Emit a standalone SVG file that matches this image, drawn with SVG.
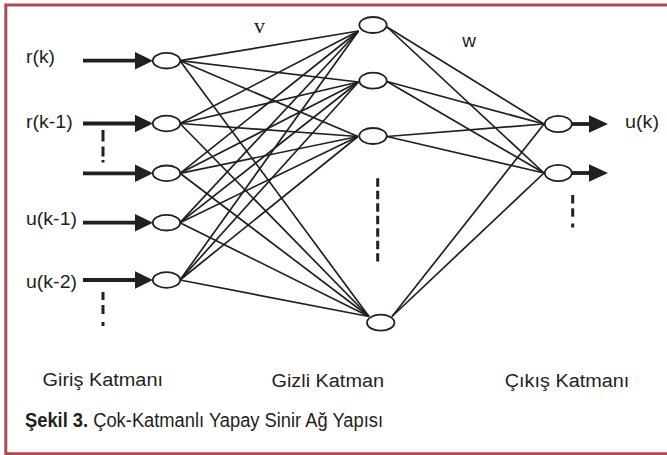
<svg xmlns="http://www.w3.org/2000/svg" width="667" height="455" viewBox="0 0 667 455">
<style>
.n{fill:#fff;stroke:#231f20;stroke-width:1.8}
.c line{stroke:#231f20;stroke-width:1.7}
.c line.a{stroke:#231f20;stroke-width:3.8}
.h{fill:#231f20}
.t{font-family:"Liberation Sans",Arial,sans-serif;font-size:18px;fill:#231f20}
.d{stroke:#231f20;stroke-width:3}
</style>
<rect width="667" height="455" fill="#fff"/>
<path d="M667,5 H5.8 V453.8 H667" fill="none" stroke="#b04a52" stroke-width="3"/>

<g id="connectors" class="c">
<!-- input to hidden -->
<line x1="180" y1="60.7" x2="358.5" y2="31"/>
<line x1="180" y1="60.7" x2="358.5" y2="82"/>
<line x1="180" y1="60.7" x2="358" y2="136.5"/>
<line x1="180" y1="60.7" x2="369" y2="316.5"/>
<line x1="180" y1="123.5" x2="358.5" y2="31"/>
<line x1="180" y1="123.5" x2="358.5" y2="82"/>
<line x1="180" y1="123.5" x2="358" y2="136.5"/>
<line x1="180" y1="123.5" x2="369" y2="316.5"/>
<line x1="180" y1="173.3" x2="358.5" y2="31"/>
<line x1="180" y1="173.3" x2="358.5" y2="82"/>
<line x1="180" y1="173.3" x2="358" y2="136.5"/>
<line x1="180" y1="173.3" x2="369" y2="316.5"/>
<line x1="180" y1="222.7" x2="358.5" y2="31"/>
<line x1="180" y1="222.7" x2="358.5" y2="82"/>
<line x1="180" y1="222.7" x2="358" y2="136.5"/>
<line x1="180" y1="222.7" x2="369" y2="316.5"/>
<line x1="180" y1="280" x2="358.5" y2="31"/>
<line x1="180" y1="280" x2="358.5" y2="82"/>
<line x1="180" y1="280" x2="358" y2="136.5"/>
<line x1="180" y1="280" x2="369" y2="316.5"/>
<!-- hidden to output -->
<line x1="387" y1="27" x2="544" y2="124"/>
<line x1="387" y1="27" x2="544" y2="173"/>
<line x1="387" y1="81.5" x2="544" y2="124"/>
<line x1="387" y1="81.5" x2="544" y2="173"/>
<line x1="387" y1="136.5" x2="544" y2="124"/>
<line x1="387" y1="136.5" x2="544" y2="173"/>
<line x1="392" y1="316.5" x2="544" y2="124"/>
<line x1="392" y1="316.5" x2="544" y2="173"/>
<!-- input arrows -->
<line class="a" x1="83" y1="60.7" x2="140" y2="60.7"/>
<polygon class="h" points="135,51.9 153,60.7 135,69.5"/>
<line class="a" x1="83" y1="123.5" x2="140" y2="123.5"/>
<polygon class="h" points="135,114.7 153,123.5 135,132.3"/>
<line class="a" x1="83" y1="173.3" x2="140" y2="173.3"/>
<polygon class="h" points="135,164.5 153,173.3 135,182.1"/>
<line class="a" x1="83" y1="222.7" x2="140" y2="222.7"/>
<polygon class="h" points="135,213.9 153,222.7 135,231.5"/>
<line class="a" x1="83" y1="280" x2="140" y2="280"/>
<polygon class="h" points="135,271.2 153,280 135,288.8"/>
<!-- output arrows -->
<line class="a" x1="572" y1="124" x2="592" y2="124"/>
<polygon class="h" points="589,115.3 608,124 589,132.7"/>
<line class="a" x1="572" y1="173" x2="592" y2="173"/>
<polygon class="h" points="589,164.3 608,173 589,181.7"/>
</g>

<g id="dots">
<line class="d" x1="103" y1="130" x2="103" y2="141.5"/>
<line class="d" x1="103" y1="146.5" x2="103" y2="156.5"/>
<line class="d" x1="103" y1="160" x2="103" y2="162.5"/>
<line class="d" x1="103" y1="292" x2="103" y2="300"/>
<line class="d" x1="103" y1="305" x2="103" y2="314"/>
<line class="d" x1="103" y1="322" x2="103" y2="326"/>
<line class="d" x1="377.7" y1="178.3" x2="377.7" y2="261.5" stroke-dasharray="8.5 4"/>
<line class="d" x1="572.7" y1="195" x2="572.7" y2="203.5"/>
<line class="d" x1="572.7" y1="208.3" x2="572.7" y2="216.7"/>
<line class="d" x1="572.7" y1="223.5" x2="572.7" y2="227.5"/>
</g>

<g id="in1"><ellipse class="n" cx="166.5" cy="60.7" rx="13.7" ry="7.8"/><text class="t" x="26" y="63.3" textLength="29" lengthAdjust="spacingAndGlyphs">r(k)</text></g>
<g id="in2"><ellipse class="n" cx="166.5" cy="123.5" rx="13.7" ry="7.8"/><text class="t" x="26" y="128.3" textLength="46.7" lengthAdjust="spacingAndGlyphs">r(k-1)</text></g>
<g id="in3"><ellipse class="n" cx="166.5" cy="173.3" rx="13.7" ry="7.8"/></g>
<g id="in4"><ellipse class="n" cx="166.5" cy="222.7" rx="13.7" ry="7.8"/><text class="t" x="26" y="224.5" textLength="51" lengthAdjust="spacingAndGlyphs">u(k-1)</text></g>
<g id="in5"><ellipse class="n" cx="166.5" cy="280" rx="13.7" ry="7.8"/><text class="t" x="26" y="288" textLength="51" lengthAdjust="spacingAndGlyphs">u(k-2)</text></g>

<g id="hid1"><ellipse class="n" cx="373" cy="25" rx="13.7" ry="8"/></g>
<g id="hid2"><ellipse class="n" cx="373" cy="80.7" rx="13.7" ry="8"/></g>
<g id="hid3"><ellipse class="n" cx="373" cy="136" rx="13.7" ry="8"/></g>
<g id="hid4"><ellipse class="n" cx="380.7" cy="322.7" rx="13.7" ry="8"/></g>

<g id="out1"><ellipse class="n" cx="558.3" cy="124" rx="13.5" ry="8.2"/><text class="t" x="625" y="128.3" textLength="34" lengthAdjust="spacingAndGlyphs">u(k)</text></g>
<g id="out2"><ellipse class="n" cx="558.3" cy="173" rx="13.5" ry="8.2"/></g>

<g id="labels">
<text x="254" y="33.3" style="font-family:'Liberation Serif','Times New Roman',serif;font-size:22px;fill:#231f20">v</text>
<text class="t" x="462.3" y="46.7" style="font-size:19px">w</text>
<text class="t" x="42.5" y="386.3" textLength="120.5" lengthAdjust="spacingAndGlyphs">Giriş Katmanı</text>
<text class="t" x="271.5" y="386.5" textLength="112.5" lengthAdjust="spacingAndGlyphs">Gizli Katman</text>
<text class="t" x="504.8" y="386.5" textLength="124.5" lengthAdjust="spacingAndGlyphs">Çıkış Katmanı</text>
<text class="t" x="25" y="426.5" style="font-size:19.5px" textLength="358" lengthAdjust="spacingAndGlyphs"><tspan font-weight="bold">Şekil 3.</tspan> Çok-Katmanlı Yapay Sinir Ağ Yapısı</text>
</g>
</svg>
